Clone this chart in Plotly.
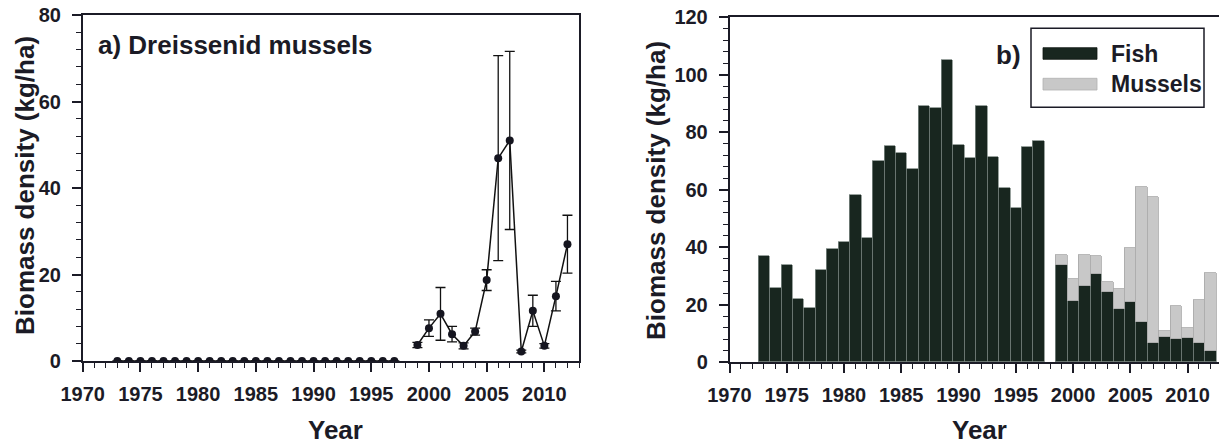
import plotly.graph_objects as go

# ---------------- data ----------------
years = list(range(1973, 2013))

# Panel a: dreissenid mussel biomass (kg/ha), mean and error (None = no sample)
mussel_mean = [0, 0, 0, 0, 0, 0, 0, 0, 0, 0,
               0, 0, 0, 0, 0, 0, 0, 0, 0, 0,
               0, 0, 0, 0, 0, None,
               3.7, 7.6, 10.9, 6.2, 3.5, 6.8, 18.7, 46.9, 51.0, 2.2, 11.6, 3.5, 15.0, 27.0]
mussel_err = [None] * 26 + [0.6, 1.9, 6.1, 1.8, 0.7, 0.8, 2.4, 23.7, 20.6, 0.3, 3.6, 0.5, 3.4, 6.7]

# Panel b: fish biomass (kg/ha)
fish = [36.9, 25.6, 33.8, 21.8, 18.6, 31.8, 39.3, 41.6, 58.1, 43.2,
        69.7, 75.0, 72.5, 67.2, 88.9, 88.2, 104.9, 75.4, 70.8, 88.9,
        71.4, 60.6, 53.6, 74.6, 76.9, None,
        33.6, 21.3, 26.4, 30.5, 24.2, 18.4, 20.9, 13.9, 6.4, 8.5, 7.9, 8.4, 6.4, 3.8]

x_ticks = [1970, 1975, 1980, 1985, 1990, 1995, 2000, 2005, 2010]
ya_ticks = [0, 20, 40, 60, 80]
yb_ticks = [0, 20, 40, 60, 80, 100, 120]

# mussel bars in panel b only where mussels were sampled (>0)
mb_years = [y for y, v in zip(years, mussel_mean) if v]
mb_vals = [v for v in mussel_mean if v]

# ---------------- style ----------------
W, H = 1219, 446
INK = "#1b1b26"
FONT = "Liberation Sans"
FISH_COL = "#18261f"
MUS_COL = "#c8c8c8"


def px_x(p):
    return p / W


def px_y(p):
    return (H - p) / H


fig = go.Figure()

fig.add_trace(go.Scatter(
    x=years, y=mussel_mean,
    mode="lines+markers",
    line=dict(color="#111111", width=1.5),
    marker=dict(color="#15151f", size=8),
    error_y=dict(type="data", array=mussel_err, visible=True,
                 color="#111111", thickness=1.3, width=5),
    connectgaps=False,
    xaxis="x", yaxis="y",
))

fig.add_trace(go.Bar(
    x=years, y=fish, width=1,
    marker=dict(color=FISH_COL, line=dict(color="#7e8a84", width=0.8)),
    xaxis="x2", yaxis="y2", name="Fish",
))
fig.add_trace(go.Bar(
    x=mb_years, y=mb_vals, width=1,
    marker=dict(color=MUS_COL, line=dict(color="#a8a8a8", width=0.8)),
    xaxis="x2", yaxis="y2", name="Mussels",
))

tickfont = dict(family=FONT, size=20, color=INK, weight="bold")

common_x = dict(
    tickmode="array", tickvals=x_ticks, ticks="outside", ticklen=9, tickwidth=1.5,
    tickcolor=INK, showline=True, linecolor=INK, linewidth=1.5, showgrid=False,
    zeroline=False, tickfont=tickfont, ticklabelstandoff=5, automargin=False,
    minor=dict(dtick=1, tick0=1970, ticks="outside", ticklen=5, tickwidth=1.3, tickcolor=INK),
)
common_y = dict(
    ticks="outside", ticklen=9, tickwidth=1.5, tickcolor=INK, showline=True,
    linecolor=INK, linewidth=1.5, showgrid=False, zeroline=False, tickfont=tickfont,
    ticklabelstandoff=7, automargin=False,
)

fig.update_layout(
    width=W, height=H,
    margin=dict(l=0, r=0, t=0, b=0),
    paper_bgcolor="white", plot_bgcolor="white",
    showlegend=False, barmode="stack", bargap=0,
    xaxis=dict(common_x, domain=[px_x(82.7), px_x(579)], range=[1970, 2013],
               mirror=True, anchor="y"),
    yaxis=dict(common_y, domain=[px_y(361), px_y(15)], range=[0, 80],
               tickmode="array", tickvals=ya_ticks, mirror=True, anchor="x",
               minor=dict(dtick=4, tick0=0, ticks="outside", ticklen=5, tickwidth=1.3, tickcolor=INK)),
    xaxis2=dict(common_x, domain=[px_x(729.5), 1.0], range=[1970, 2012.75],
                mirror=True, anchor="y2"),
    yaxis2=dict(common_y, domain=[px_y(362), px_y(17.3)], range=[0, 120],
                tickmode="array", tickvals=yb_ticks, mirror=False, anchor="x2",
                minor=dict(dtick=4, tick0=0, ticks="outside", ticklen=5, tickwidth=1.3, tickcolor=INK)),
)

title_font = dict(family=FONT, size=26, color=INK, weight="bold")
label_font = dict(family=FONT, size=26, color=INK, weight="bold")
leg_font = dict(family=FONT, size=23, color=INK, weight="bold")

annotations = [
    dict(text="Year", x=px_x(335), y=px_y(430), xref="paper", yref="paper",
         showarrow=False, font=title_font, xanchor="center", yanchor="middle"),
    dict(text="Year", x=px_x(979), y=px_y(430), xref="paper", yref="paper",
         showarrow=False, font=title_font, xanchor="center", yanchor="middle"),
    dict(text="Biomass density (kg/ha)", x=px_x(25), y=px_y(186), xref="paper", yref="paper",
         showarrow=False, font=title_font, textangle=-90, xanchor="center", yanchor="middle"),
    dict(text="Biomass density (kg/ha)", x=px_x(656), y=px_y(191), xref="paper", yref="paper",
         showarrow=False, font=title_font, textangle=-90, xanchor="center", yanchor="middle"),
    dict(text="a) Dreissenid mussels", x=px_x(96), y=px_y(45), xref="paper", yref="paper",
         showarrow=False, font=label_font, xanchor="left", yanchor="middle"),
    dict(text="b)", x=px_x(1023), y=px_y(55), xref="paper", yref="paper",
         showarrow=False, font=label_font, xanchor="right", yanchor="middle"),
    dict(text="Fish", x=px_x(1109), y=px_y(54), xref="paper", yref="paper",
         showarrow=False, font=leg_font, xanchor="left", yanchor="middle"),
    dict(text="Mussels", x=px_x(1109), y=px_y(84), xref="paper", yref="paper",
         showarrow=False, font=leg_font, xanchor="left", yanchor="middle"),
]

shapes = [
    dict(type="rect", xref="paper", yref="paper",
         x0=px_x(1031), x1=px_x(1204), y0=px_y(107.3), y1=px_y(28.3),
         line=dict(color=INK, width=1.5), fillcolor="white"),
    dict(type="rect", xref="paper", yref="paper",
         x0=px_x(1043), x1=px_x(1097), y0=px_y(59.3), y1=px_y(47.7),
         line=dict(color="#0e1510", width=0.8), fillcolor=FISH_COL),
    dict(type="rect", xref="paper", yref="paper",
         x0=px_x(1043), x1=px_x(1097), y0=px_y(90), y1=px_y(78.3),
         line=dict(color="#b0b0b0", width=0.8), fillcolor=MUS_COL),
]

fig.update_layout(annotations=annotations, shapes=shapes)

fig.write_html("out.html",
               config={"displayModeBar": False},
               post_script="document.body.style.margin='0';document.body.style.overflow='hidden';")
